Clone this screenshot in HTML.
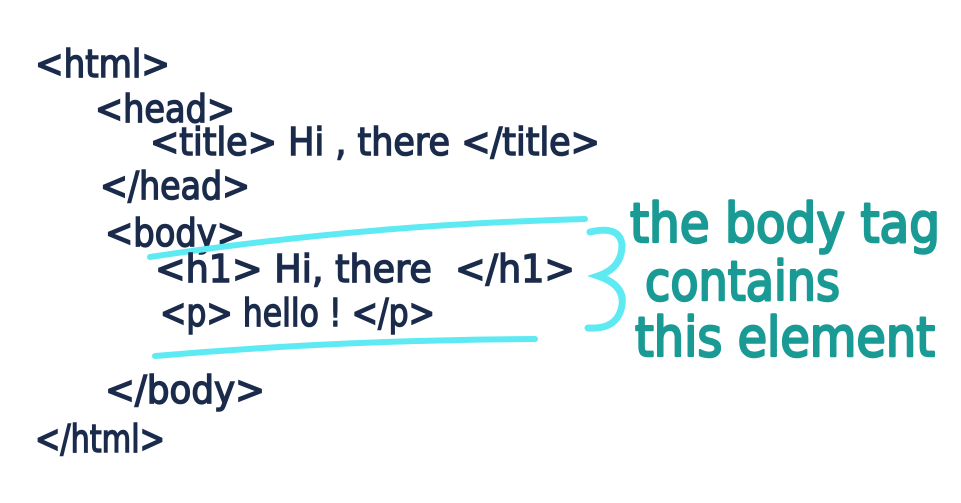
<!DOCTYPE html>
<html><head><meta charset="utf-8"><style>
html,body{margin:0;padding:0;background:#fff;}
svg{display:block;}
.n{font-family:"DejaVu Sans","Liberation Sans",sans-serif;fill:#1b2b4b;stroke:#1b2b4b;stroke-width:1.5;font-size:38px;}
.t{font-family:"DejaVu Sans","Liberation Sans",sans-serif;fill:#1a9a94;stroke:#1a9a94;stroke-width:2.5;stroke-linejoin:round;font-size:54px;}
</style></head><body>
<svg width="961" height="503" viewBox="0 0 961 503">
<text class="n" x="35" y="77" textLength="135" lengthAdjust="spacingAndGlyphs">&lt;html&gt;</text>
<text class="n" x="95" y="122" textLength="140" lengthAdjust="spacingAndGlyphs">&lt;head&gt;</text>
<text class="n" x="150" y="155" textLength="450" lengthAdjust="spacingAndGlyphs">&lt;title&gt; Hi , there &lt;/title&gt;</text>
<text class="n" x="100" y="199" textLength="150" lengthAdjust="spacingAndGlyphs">&lt;/head&gt;</text>
<text class="n" x="105" y="246" textLength="140" lengthAdjust="spacingAndGlyphs">&lt;body&gt;</text>
<path d="M150 257 Q360 225 585 219" stroke="#5eeaf2" stroke-width="6" fill="none" stroke-linecap="round"/>
<text class="n" x="155" y="282" textLength="420" lengthAdjust="spacingAndGlyphs">&lt;h1&gt; Hi, there &#160;&lt;/h1&gt;</text>
<text class="n" x="160" y="326" textLength="275" lengthAdjust="spacingAndGlyphs">&lt;p&gt; hello ! &lt;/p&gt;</text>
<path d="M155 356 Q340 340 535 339" stroke="#5eeaf2" stroke-width="6" fill="none" stroke-linecap="round"/>
<text class="n" x="105" y="403" textLength="160" lengthAdjust="spacingAndGlyphs">&lt;/body&gt;</text>
<text class="n" x="35" y="452" textLength="130" lengthAdjust="spacingAndGlyphs">&lt;/html&gt;</text>
<path d="M590 232 Q620 225 622 245 Q622 268 598 276 Q625 285 622 305 Q618 330 588 328" stroke="#5eeaf2" stroke-width="7" fill="none" stroke-linecap="round"/>
<text class="t" x="630" y="242" textLength="310" lengthAdjust="spacingAndGlyphs">the body tag</text>
<text class="t" x="645" y="300" textLength="195" lengthAdjust="spacingAndGlyphs">contains</text>
<text class="t" x="635" y="356" textLength="300" lengthAdjust="spacingAndGlyphs">this element</text>
</svg>
</body></html>
